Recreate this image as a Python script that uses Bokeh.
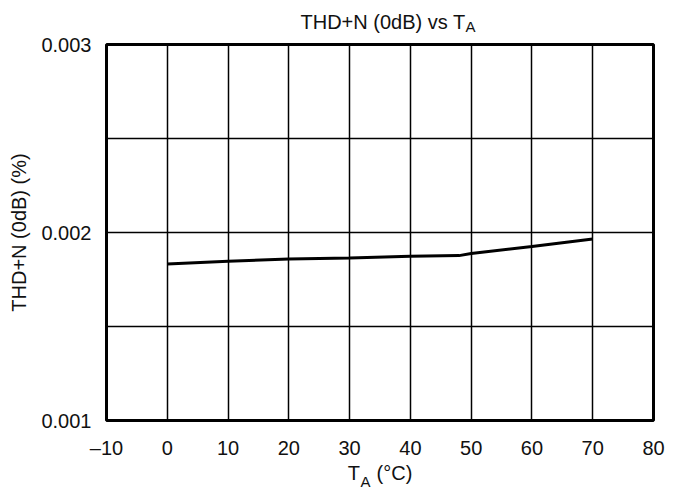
from bokeh.plotting import figure
from bokeh.models import Range1d, FixedTicker, PrintfTickFormatter, Label, ColumnDataSource
from bokeh.embed import file_html
from bokeh.resources import INLINE

# ---- data ----
temp_c = [0, 10, 20, 30, 40, 48, 50, 60, 70]
thdn_pct = [0.001833, 0.001847, 0.001859, 0.001865, 0.001874, 0.001877, 0.001888, 0.001925, 0.001966]

x_ticks = [-10, 0, 10, 20, 30, 40, 50, 60, 70, 80]
y_ticks = [0.001, 0.002, 0.003]
y_grid = [0.0015, 0.002, 0.0025]

FONT = "Liberation Sans"
FS = "20px"
SUB = "15px"
TXT = "#111111"

W, H = 673, 490
BL, BR, BT, BB = 106, 16, 44, 70
frame_h = H - BT - BB

p = figure(width=W, height=H, output_backend="svg", toolbar_location=None,
           x_range=Range1d(-10, 80), y_range=Range1d(0.001, 0.003),
           min_border_left=BL, min_border_right=BR, min_border_top=BT, min_border_bottom=BB)
p.background_fill_color = "white"
p.border_fill_color = "white"
p.outline_line_color = "black"
p.outline_line_width = 3

for ax in (p.xaxis[0], p.yaxis[0]):
    ax.axis_line_color = None
    ax.major_tick_line_color = None
    ax.minor_tick_line_color = None
    ax.major_tick_out = 0
    ax.minor_tick_out = 0
    ax.major_tick_in = 0
    ax.minor_tick_in = 0
    ax.major_label_text_font = FONT
    ax.major_label_text_font_size = FS
    ax.major_label_text_color = TXT
    ax.axis_label_text_font = FONT
    ax.axis_label_text_font_size = FS
    ax.axis_label_text_font_style = "normal"
    ax.axis_label_text_color = TXT

p.xaxis.ticker = FixedTicker(ticks=x_ticks)
p.xaxis.major_label_overrides = {-10: "\u201310"}
p.xaxis.major_label_standoff = 16
p.xaxis.axis_label = "T\u00a0\u00a0\u00a0(\u00b0C)"
p.xaxis.axis_label_standoff = 0

p.yaxis.ticker = FixedTicker(ticks=y_ticks)
p.yaxis.formatter = PrintfTickFormatter(format="%.3f")
p.yaxis.major_label_standoff = 15
p.yaxis.axis_label = "THD+N (0dB) (%)"
p.yaxis.axis_label_standoff = 8

p.xgrid.ticker = FixedTicker(ticks=x_ticks)
p.ygrid.ticker = FixedTicker(ticks=y_grid)
for g in (p.xgrid[0], p.ygrid[0]):
    g.grid_line_color = "black"
    g.grid_line_width = 1.5
    g.grid_line_alpha = 1.0

src = ColumnDataSource(dict(x=temp_c, y=thdn_pct))
p.line("x", "y", source=src, line_color="black", line_width=3)

def lab(x, y, text, align, size=FS):
    return Label(x=x, y=y, x_units="screen", y_units="screen", text=text,
                 text_align=align, text_baseline="alphabetic", text_font=FONT,
                 text_font_size=size, text_color=TXT)

# title (labels in side panels are not clipped to the frame)
p.add_layout(lab(359, 23, "THD+N (0dB) vs T", "right"), "above")
# subscript "A" of the title (first right-hand slot, x from the frame's right edge)
p.add_layout(lab(-188, frame_h + 17.7, "A", "left", SUB), "right")
# subscript "A" of the x-axis label (second right-hand slot, 10px further right)
p.add_layout(lab(-303, -61, "A", "left", SUB), "right")

open("out.html", "w").write(file_html(p, INLINE))
